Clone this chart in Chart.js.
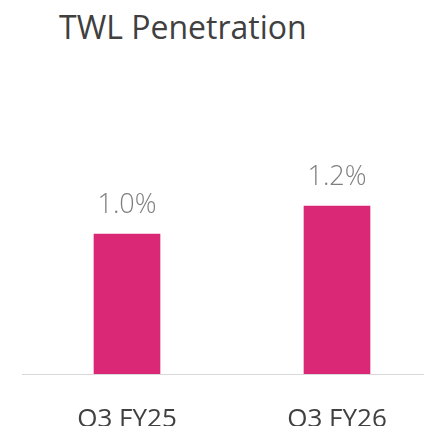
<!DOCTYPE html>
<html>
<head>
<meta charset="utf-8">
<script src="https://cdn.jsdelivr.net/npm/chart.js@4.4.1/dist/chart.umd.min.js"></script>
<style>
  html, body { margin: 0; padding: 0; background: #fff; overflow: hidden; width: 424px; height: 426px; }
  #title { position: absolute; left: 59px; top: 5px; font-family: "Open Sans", sans-serif; font-size: 32px; color: #404040; white-space: nowrap; }
  #wrap { position: absolute; left: 0; top: 0; width: 446px; height: 426px; }
</style>
</head>
<body>
<div id="title">TWL Penetration</div>
<div id="wrap"><canvas id="barChart"></canvas></div>
<script>
"use strict"

const categories = ["Q3 FY25", "Q3 FY26"];
const penetration = [1.0, 1.2];

// draws "1.0%" style labels above each bar
const valueLabels = {
  id: 'valueLabels',
  afterDatasetsDraw(chart) {
    let ctx = chart.ctx;
    ctx.save();
    ctx.font = '300 27px "Open Sans", sans-serif';
    ctx.fillStyle = '#7f7f7f';
    ctx.textAlign = 'center';
    ctx.textBaseline = 'alphabetic';
    chart.getDatasetMeta(0).data.forEach((bar, i) => {
      ctx.fillText(penetration[i].toFixed(1) + '%', bar.x, bar.y - 21);
    });
    ctx.restore();
  }
};

let ctxB = document.getElementById("barChart").getContext('2d');
let myBarChart = new Chart(ctxB, {
  type: 'bar',
  data: {
    labels: categories,
    datasets: [{
      data: penetration,
      backgroundColor: '#DA2877',
      barThickness: 66
    }]
  },
  options: {
    responsive: true,
    maintainAspectRatio: false,
    animation: false,
    layout: { padding: { left: 22, right: 4, top: 150, bottom: 0 } },
    plugins: { legend: { display: false }, tooltip: { enabled: false } },
    scales: {
      x: {
        grid: { display: false },
        border: { display: true, color: '#d9d9d9', width: 1 },
        ticks: { color: '#404040', font: { family: '"Open Sans", sans-serif', size: 26 }, padding: 22 },
        afterFit: s => { s.height = 52; }
      },
      y: { display: false, min: 0, max: 1.6 }
    }
  },
  plugins: [valueLabels]
});
</script>
</body>
</html>
